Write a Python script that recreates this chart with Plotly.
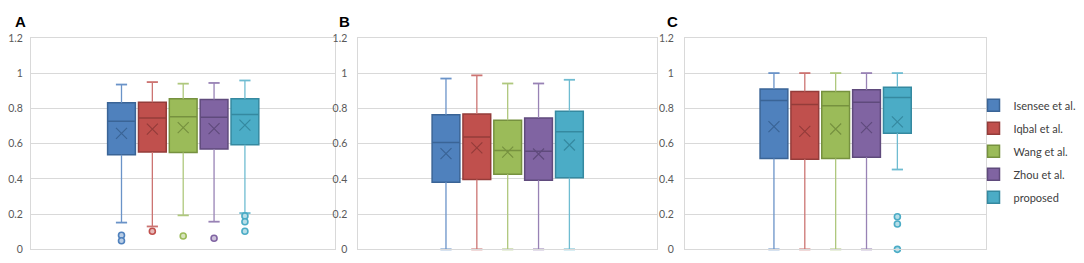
import plotly.graph_objects as go

methods = ["Isensee et al.", "Iqbal et al.", "Wang et al.", "Zhou et al.", "proposed"]
panels = ["A", "B", "C"]

# Panel A
A_lo = [0.152, 0.130, 0.193, 0.157, 0.206]
A_q1 = [0.537, 0.552, 0.550, 0.570, 0.593]
A_med = [0.727, 0.745, 0.752, 0.749, 0.765]
A_q3 = [0.832, 0.835, 0.854, 0.850, 0.854]
A_hi = [0.935, 0.949, 0.940, 0.944, 0.958]
A_mean = [0.658, 0.682, 0.691, 0.685, 0.705]
A_out = [[0.080, 0.049], [0.103], [0.076], [0.063], [0.190, 0.157, 0.103]]

# Panel B
B_lo = [0.0, 0.0, 0.0, 0.0, 0.0]
B_q1 = [0.381, 0.396, 0.426, 0.392, 0.406]
B_med = [0.606, 0.638, 0.561, 0.556, 0.667]
B_q3 = [0.764, 0.768, 0.732, 0.745, 0.784]
B_hi = [0.969, 0.987, 0.941, 0.941, 0.962]
B_mean = [0.543, 0.576, 0.552, 0.541, 0.592]
B_out = [[], [], [], [], []]

# Panel C
C_lo = [0.0, 0.0, 0.0, 0.0, 0.453]
C_q1 = [0.516, 0.511, 0.516, 0.523, 0.658]
C_med = [0.845, 0.822, 0.815, 0.835, 0.862]
C_q3 = [0.910, 0.896, 0.896, 0.906, 0.919]
C_hi = [1.0, 1.0, 1.0, 1.0, 1.0]
C_mean = [0.696, 0.669, 0.683, 0.691, 0.723]
C_out = [[], [], [], [], [0.185, 0.144, 0.0]]

y_ticks = [0, 0.2, 0.4, 0.6, 0.8, 1, 1.2]

fills = ["#4F81BD", "#C0504D", "#9BBB59", "#8064A2", "#4BACC6"]
edges = ["#3A6496", "#943C3A", "#76913F", "#5F4A7C", "#3589A0"]
whisk = ["#6A93C8", "#CC7472", "#AFC87D", "#9882B5", "#6FBCD1"]
light = ["#B9CDE5", "#E6B9B8", "#D7E4BD", "#CCC1DA", "#B7DEE8"]

data = {
    "A": (A_lo, A_q1, A_med, A_q3, A_hi, A_mean, A_out),
    "B": (B_lo, B_q1, B_med, B_q3, B_hi, B_mean, B_out),
    "C": (C_lo, C_q1, C_med, C_q3, C_hi, C_mean, C_out),
}

# the page body has an 8px margin, so the figure is sized/offset to fit the window
OFF = 8
W, H = 1084 - OFF, 263 - OFF
plot_px = {"A": (26 - OFF, 332 - OFF), "B": (355 - OFF, 655 - OFF), "C": (683 - OFF, 986 - OFF)}
top_px, bot_px = 33 - OFF, 255 - OFF
spacing_px = 31.0
standoff = {"A": 5, "B": 8, "C": 8}

fig = go.Figure()
for pi, p in enumerate(panels):
    lo, q1, med, q3, hi, mean, out = data[p]
    xa = "x" if pi == 0 else f"x{pi+1}"
    ya = "y" if pi == 0 else f"y{pi+1}"
    for i, m in enumerate(methods):
        # whisker stems
        fig.add_trace(go.Scatter(
            x=[i, i, None, i, i], y=[lo[i], q1[i], None, q3[i], hi[i]],
            mode="lines", line=dict(color=whisk[i], width=1.3),
            legendgroup=m, showlegend=False, cliponaxis=False,
            xaxis=xa, yaxis=ya, hoverinfo="skip",
        ))
        # whisker caps
        fig.add_trace(go.Scatter(
            x=[i, i], y=[lo[i], hi[i]], mode="markers",
            marker=dict(symbol="line-ew", size=8, line=dict(color=whisk[i], width=1.8)),
            legendgroup=m, showlegend=False, cliponaxis=False,
            xaxis=xa, yaxis=ya, hoverinfo="skip",
        ))
        fig.add_trace(go.Box(
            x=[i], q1=[q1[i]], median=[med[i]], q3=[q3[i]],
            lowerfence=[q1[i]], upperfence=[q3[i]],
            name=m, legendgroup=m, showlegend=(pi == 0),
            fillcolor=fills[i], line=dict(color=edges[i], width=1.5),
            width=0.9, whiskerwidth=0, boxpoints=False,
            xaxis=xa, yaxis=ya, hoverinfo="skip",
        ))
        fig.add_trace(go.Scatter(
            x=[i], y=[mean[i]], mode="markers", legendgroup=m, showlegend=False,
            marker=dict(symbol="x-thin", size=11, line=dict(color=edges[i], width=1.2)),
            xaxis=xa, yaxis=ya, hoverinfo="skip",
        ))
        if out[i]:
            fig.add_trace(go.Scatter(
                x=[i] * len(out[i]), y=out[i], mode="markers", legendgroup=m, showlegend=False,
                marker=dict(symbol="circle", size=6, color=light[i], line=dict(color=fills[i], width=1.6)),
                cliponaxis=False, xaxis=xa, yaxis=ya, hoverinfo="skip",
            ))

layout = dict(
    width=W, height=H, margin=dict(l=0, r=0, t=0, b=0),
    paper_bgcolor="white", plot_bgcolor="white",
    font=dict(family="Lato, Open Sans, sans-serif", color="#595959", size=11),
    legend=dict(x=(973 - OFF) / W, xanchor="left", y=(H - (152 - OFF)) / H, yanchor="middle",
                font=dict(size=11, color="#404040"), tracegroupgap=4,
                bgcolor="rgba(0,0,0,0)", itemwidth=30),
    showlegend=True,
)
for pi, p in enumerate(panels):
    l, r = plot_px[p]
    span = (r - l) / spacing_px
    sfx = "" if pi == 0 else str(pi + 1)
    layout["xaxis" + sfx] = dict(
        domain=[l / W, r / W], range=[2 - span / 2, 2 + span / 2],
        showticklabels=False, showgrid=False, zeroline=False,
        showline=True, mirror=True, linecolor="#D9D9D9", linewidth=1,
        anchor="y" + sfx, fixedrange=True,
    )
    layout["yaxis" + sfx] = dict(
        domain=[(H - bot_px) / H, (H - top_px) / H], range=[0, 1.2],
        tickvals=y_ticks, ticktext=[f"{v:g}" for v in y_ticks],
        showgrid=True, gridcolor="#D9D9D9", gridwidth=1, zeroline=False,
        showline=True, mirror=True, linecolor="#D9D9D9", linewidth=1,
        ticks="", ticklabelstandoff=standoff[p], anchor="x" + sfx,
        tickfont=dict(size=10.5, color="#595959"), fixedrange=True,
    )
fig.update_layout(**layout)

label_x = {"A": 0, "B": 334 - OFF, "C": 663 - OFF}
for p in panels:
    fig.add_annotation(
        x=label_x[p] / W, y=1, xref="paper", yref="paper",
        xanchor="left", yanchor="top", text=f"<b>{p}</b>", showarrow=False,
        font=dict(family="Liberation Sans, Arial, sans-serif", size=15, color="#000000"),
        yshift=3,
    )

fig.write_html("out.html")
